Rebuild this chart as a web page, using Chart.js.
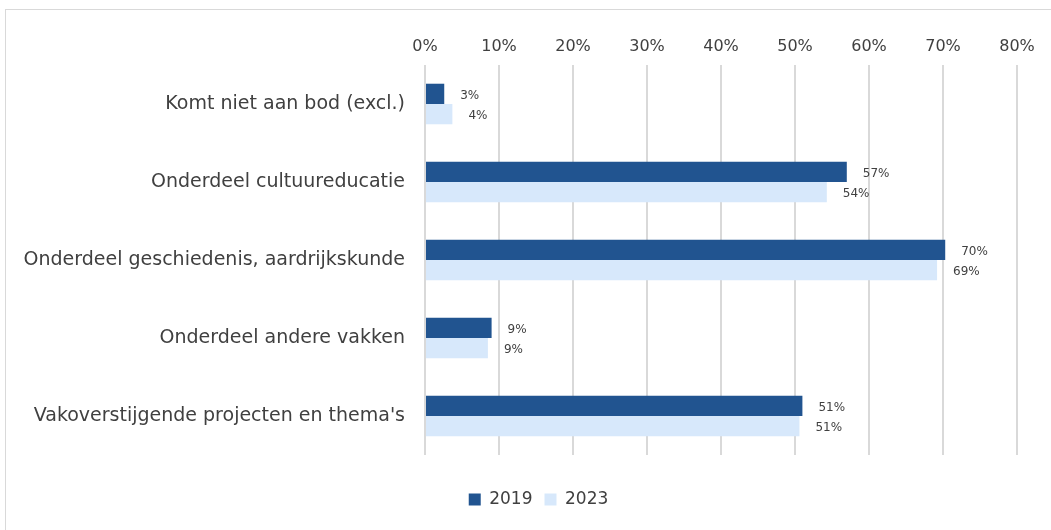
<!DOCTYPE html>
<html>
<head>
<meta charset="utf-8">
<script src="https://cdn.jsdelivr.net/npm/chart.js@4.4.0/dist/chart.umd.min.js"></script>
<style>
  html, body { margin: 0; padding: 0; background: #fff; overflow: hidden; }
  #wrap { position: absolute; left: 0; top: 0; width: 1051px; height: 530px; }
  #frame { position: absolute; left: 5px; top: 9px; width: 1100px; height: 600px; border: 1px solid #d9d9d9; box-sizing: border-box; }
  canvas { position: absolute; left: 0; top: 0; }
</style>
</head>
<body>
<div id="wrap">
  <div id="frame"></div>
  <canvas id="c" width="1051" height="530"></canvas>
</div>
<script>
const categories = [
  "Komt niet aan bod (excl.)",
  "Onderdeel cultuureducatie",
  "Onderdeel geschiedenis, aardrijkskunde",
  "Onderdeel andere vakken",
  "Vakoverstijgende projecten en thema's"
];
const values2019 = [2.6, 57.0, 70.3, 9.0, 51.0];
const values2023 = [3.7, 54.3, 69.2, 8.5, 50.6];
const seriesNames = ["2019", "2023"];
const tickValues = [0, 10, 20, 30, 40, 50, 60, 70, 80];

const FONT = "'DejaVu Sans', sans-serif";
const TEXT = '#404040';

const dataLabels = {
  id: 'dataLabels',
  afterDatasetsDraw(chart) {
    const ctx = chart.ctx;
    ctx.save();
    ctx.font = '12px ' + FONT;
    ctx.fillStyle = TEXT;
    ctx.textAlign = 'left';
    ctx.textBaseline = 'middle';
    chart.data.datasets.forEach((ds, i) => {
      const meta = chart.getDatasetMeta(i);
      meta.data.forEach((bar, j) => {
        ctx.fillText(Math.round(ds.data[j]) + '%', bar.x + 16, bar.y + 2);
      });
    });
    ctx.restore();
  }
};

const legendShift = {
  id: 'legendShift',
  afterLayout(chart) {
    if (chart.legend) {
      chart.legend.left += 30;
      chart.legend.right += 30;
    }
  }
};

new Chart(document.getElementById('c'), {
  type: 'bar',
  data: {
    labels: categories,
    datasets: [
      { label: seriesNames[0], data: values2019, backgroundColor: '#215490', borderWidth: 0 },
      { label: seriesNames[1], data: values2023, backgroundColor: '#d7e8fb', borderWidth: 0 }
    ]
  },
  options: {
    indexAxis: 'y',
    responsive: false,
    animation: false,
    layout: { padding: { top: 20, right: 34, bottom: 12, left: 0 } },
    datasets: { bar: { barPercentage: 1.0, categoryPercentage: 0.52 } },
    scales: {
      x: {
        position: 'top',
        min: 0, max: 80,
        afterBuildTicks(scale) { scale.ticks = tickValues.map(v => ({ value: v })); },
        afterFit(scale) { scale.height = 45; },
        grid: { color: '#d9d9d9', lineWidth: 2, drawTicks: false },
        border: { display: false },
        ticks: {
          padding: 9,
          color: TEXT,
          font: { family: FONT, size: 16 },
          callback: v => v + '%'
        }
      },
      spacer: {
        type: 'linear',
        axis: 'x',
        position: 'bottom',
        display: true,
        afterFit(scale) { scale.height = 24; },
        grid: { display: false, drawTicks: false },
        border: { display: false },
        ticks: { display: false }
      },
      y: {
        afterFit(scale) { scale.width = 425; },
        grid: { display: false, drawTicks: false },
        border: { display: false },
        ticks: {
          padding: 20,
          color: TEXT,
          font: { family: FONT, size: 19 }
        }
      }
    },
    plugins: {
      legend: {
        position: 'bottom',
        labels: {
          color: TEXT,
          font: { family: FONT, size: 17 },
          boxWidth: 12,
          boxHeight: 12,
          padding: 12
        }
      },
      tooltip: { enabled: false }
    }
  },
  plugins: [dataLabels, legendShift]
});
</script>
</body>
</html>
